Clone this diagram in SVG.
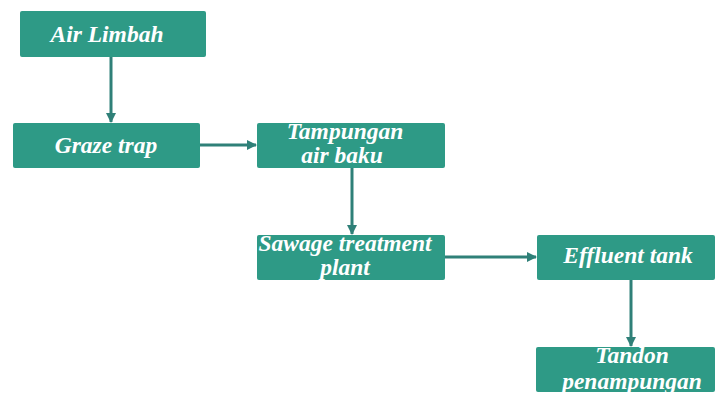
<svg xmlns="http://www.w3.org/2000/svg" width="715" height="396" viewBox="0 0 715 396">
<defs>
<style>
.box{fill:#2e9a86;}
.t{fill:#ffffff;font-family:'Liberation Serif','Times New Roman',serif;font-weight:bold;font-style:italic;font-size:23.5px;text-anchor:middle;}
.c{stroke:#2f8078;stroke-width:3;fill:none;}
</style>
<marker id="ah" markerWidth="10" markerHeight="10" refX="9" refY="5" orient="auto" markerUnits="userSpaceOnUse">
<path d="M0,0 L10,5 L0,10 Z" fill="#2f8078"/>
</marker>
</defs>
<rect width="715" height="396" fill="#ffffff"/>
<g id="connectors">
<line class="c" x1="111" y1="57" x2="111" y2="122" marker-end="url(#ah)"/>
<line class="c" x1="200" y1="145" x2="256" y2="145" marker-end="url(#ah)"/>
<line class="c" x1="352" y1="168" x2="352" y2="234" marker-end="url(#ah)"/>
<line class="c" x1="445" y1="257" x2="536" y2="257" marker-end="url(#ah)"/>
<line class="c" x1="631" y1="280" x2="631" y2="346" marker-end="url(#ah)"/>
</g>
<g id="air-limbah"><rect class="box" x="20" y="11" width="186" height="46" rx="2"/><text class="t" x="107" y="42">Air Limbah</text></g>
<g id="graze-trap"><rect class="box" x="13" y="123" width="187" height="45" rx="2"/><text class="t" x="106" y="153">Graze trap</text></g>
<g id="tampungan"><rect class="box" x="257" y="123" width="188" height="45" rx="2"/><text class="t" x="345" y="139">Tampungan</text><text class="t" x="342" y="163">air baku</text></g>
<g id="sawage"><rect class="box" x="257" y="235" width="188" height="45" rx="2"/><text class="t" x="345" y="251">Sawage treatment</text><text class="t" x="345" y="275">plant</text></g>
<g id="effluent"><rect class="box" x="537" y="235" width="178" height="45" rx="2"/><text class="t" x="628" y="263">Effluent tank</text></g>
<g id="tandon"><rect class="box" x="536" y="347" width="179" height="45" rx="2"/><text class="t" x="632" y="363">Tandon</text><text class="t" x="632" y="389">penampungan</text></g>
</svg>
